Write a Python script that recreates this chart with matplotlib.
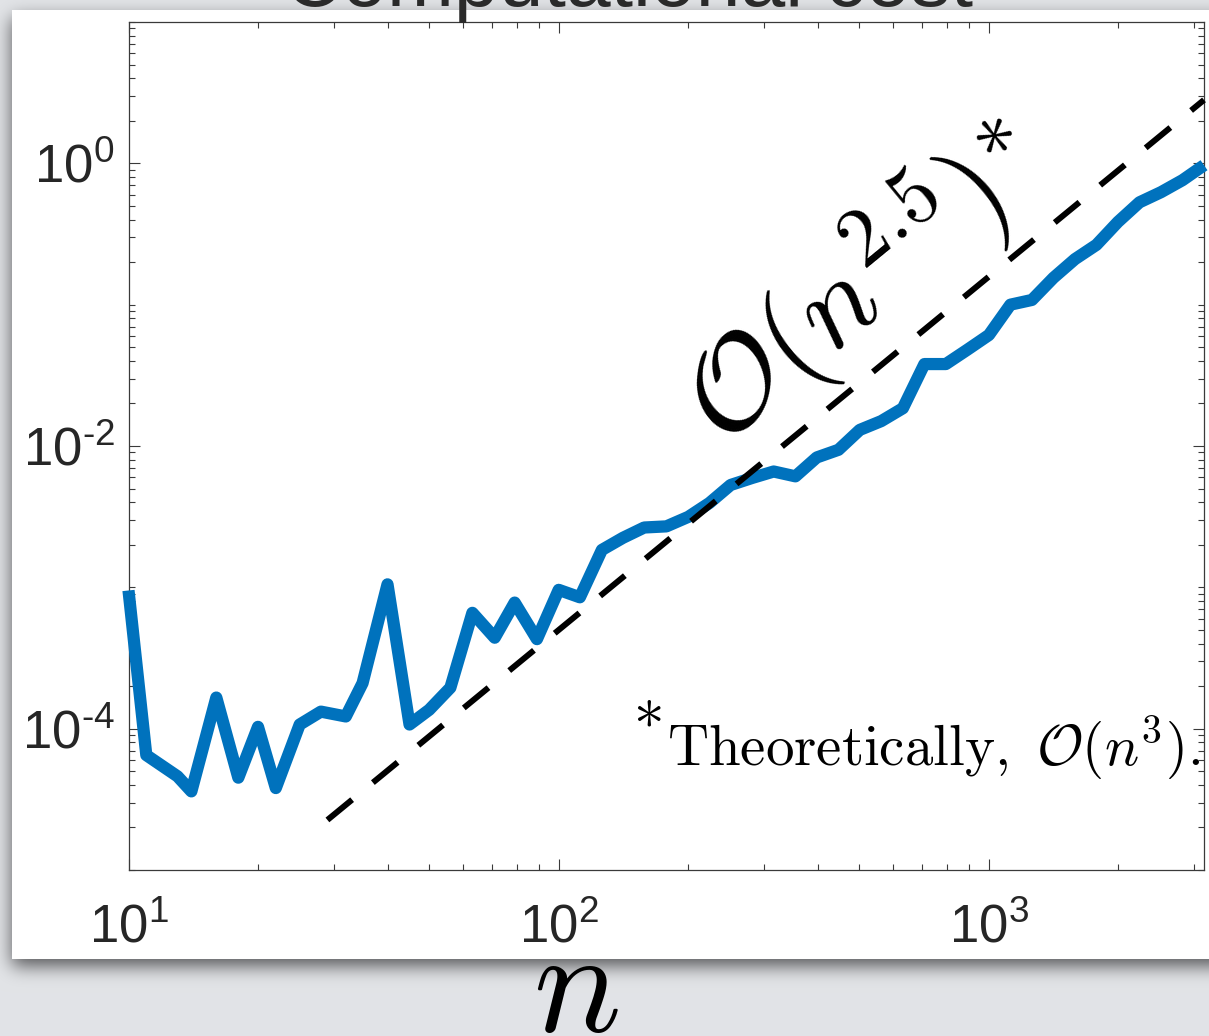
import numpy as np
import matplotlib
matplotlib.use("Agg")
import matplotlib.pyplot as plt
from matplotlib.ticker import LogLocator, FuncFormatter, NullFormatter, FixedLocator

# Problem size and measured wall-clock time (seconds)
n_values = [10, 11, 13, 14, 16, 18, 20, 22, 25, 28, 32, 35, 40, 45, 50, 56, 63,
            71, 79, 89, 100, 112, 126, 141, 158, 178, 200, 224, 251, 282, 316,
            355, 398, 447, 501, 562, 631, 708, 794, 891, 1000, 1122, 1259, 1413,
            1585, 1778, 1995, 2239, 2512, 2818, 3162]
run_time = [9.5e-4, 6.5e-5, 4.6e-5, 3.6e-5, 1.66e-4, 4.5e-5, 1.03e-4, 3.8e-5,
            1.07e-4, 1.32e-4, 1.22e-4, 2.1e-4, 1.05e-3, 1.07e-4, 1.36e-4, 1.95e-4,
            6.6e-4, 4.4e-4, 7.8e-4, 4.3e-4, 9.6e-4, 8.5e-4, 1.84e-3, 2.24e-3,
            2.65e-3, 2.7e-3, 3.15e-3, 3.95e-3, 5.3e-3, 5.95e-3, 6.6e-3, 6.1e-3,
            8.3e-3, 9.4e-3, 1.3e-2, 1.5e-2, 1.85e-2, 3.8e-2, 3.8e-2, 4.8e-2,
            6.1e-2, 1.0e-1, 1.08e-1, 1.55e-1, 2.1e-1, 2.65e-1, 3.85e-1, 5.3e-1,
            6.25e-1, 7.6e-1, 9.7e-1]

# Reference slope O(n^2.5)
ref_n = [29, 3162]
ref_time = [2.26e-5, 2.81]

x_limits = (10, 3162)
y_limits = (1e-5, 10)
x_major = [10, 100, 1000]
y_major = [1e-4, 1e-2, 1e0]

title_text = "Computational cost"
slope_label = r"$\mathcal{O}(n^{2.5})^{\ast}$"
footnote_mark = r"$\ast$"
footnote = r"$\mathrm{Theoretically,}\ \mathcal{O}(n^3).$"
x_label = r"$n$"

plt.rcParams['font.family'] = ['Liberation Sans', 'DejaVu Sans']
plt.rcParams['mathtext.fontset'] = 'cm'
plt.rcParams['axes.unicode_minus'] = False

W, H = 1209, 1036
fig = plt.figure(figsize=(W / 100, H / 100), dpi=100)

# ---- slide backdrop: grey page, white card with a soft drop shadow ----
PAD = 120
Hp, Wp = H + 2 * PAD, W + 2 * PAD
yy, xx = np.mgrid[0:Hp, 0:Wp]


def box(x0, x1, y0, y1):
    return ((xx >= x0 + PAD) & (xx < x1 + PAD) &
            (yy >= y0 + PAD) & (yy < y1 + PAD)).astype(float)


card = box(12, W + 200, 10, 959)
shade = box(12, W + 200, 18, 966)
sigma = 9.0
kx = np.arange(-int(3 * sigma), int(3 * sigma) + 1)
kern = np.exp(-0.5 * (kx / sigma) ** 2)
kern /= kern.sum()
shade = np.apply_along_axis(lambda r: np.convolve(r, kern, mode='same'), 1, shade)
shade = np.apply_along_axis(lambda c: np.convolve(c, kern, mode='same'), 0, shade)
card = card[PAD:PAD + H, PAD:PAD + W]
shade = shade[PAD:PAD + H, PAD:PAD + W]

page = np.array([0.886, 0.894, 0.906])
dark = np.array([0.20, 0.20, 0.21])
a = 0.8 * shade[..., None]
img = page * (1 - a) + dark * a
img[card > 0.5] = 1.0

bg = fig.add_axes([0, 0, 1, 1], zorder=-10)
bg.imshow(img, extent=(0, W, H, 0), aspect='auto', interpolation='bilinear')
bg.set_xlim(0, W)
bg.set_ylim(H, 0)
bg.axis('off')

# ---- main log-log axes ----
ax_left, ax_right, ax_top, ax_bottom = 128.5, 1204, 22, 870
ax = fig.add_axes([ax_left / W, 1 - ax_bottom / H,
                   (ax_right - ax_left) / W, (ax_bottom - ax_top) / H])
ax.set_xscale('log')
ax.set_yscale('log')
ax.set_xlim(*x_limits)
ax.set_ylim(*y_limits)
ax.set_facecolor('white')

axis_col = '#3a3a3a'
for s in ax.spines.values():
    s.set_color(axis_col)
    s.set_linewidth(0.9)


def decade_label(v, pos):
    e = int(round(np.log10(v)))
    return r"$\mathdefault{10^{%s}}$" % str(e).replace('-', '\u2010')


ax.xaxis.set_major_locator(FixedLocator(x_major))
ax.yaxis.set_major_locator(FixedLocator(y_major))
ax.xaxis.set_minor_locator(LogLocator(base=10, subs=np.arange(2, 10), numticks=20))
ax.yaxis.set_minor_locator(FixedLocator(
    [m * 10.0 ** e for e in range(-5, 1) for m in range(1, 10)
     if not (m == 1 and e in (-4, -2, 0))] + [10.0]))
ax.xaxis.set_major_formatter(FuncFormatter(decade_label))
ax.yaxis.set_major_formatter(FuncFormatter(decade_label))
ax.xaxis.set_minor_formatter(NullFormatter())
ax.yaxis.set_minor_formatter(NullFormatter())

ax.tick_params(which='both', direction='in', top=True, right=True,
               color=axis_col, width=0.8)
ax.tick_params(which='major', length=8)
ax.tick_params(which='minor', length=4)
ax.tick_params(axis='x', which='major', labelsize=38, pad=24, labelcolor='#262626')
ax.tick_params(axis='y', which='major', labelsize=38, pad=10, labelcolor='#262626')

# measured cost
ax.plot(n_values, run_time, color='#0072BD', lw=8.8,
        solid_joinstyle='round', solid_capstyle='butt', clip_on=False, zorder=3)

# reference slope
ax.plot(ref_n, ref_time, color='black', lw=4.3, dashes=(5.35, 4.5),
        clip_on=False, zorder=4)

p0 = ax.transData.transform((ref_n[0], ref_time[0]))
p1 = ax.transData.transform((ref_n[1], ref_time[1]))
angle = np.degrees(np.arctan2(p1[1] - p0[1], p1[0] - p0[0]))

ax.text(240, 1.0e-2, slope_label, fontsize=86, rotation=angle,
        rotation_mode='anchor', ha='left', va='baseline', color='black',
        math_fontfamily='cm', zorder=5)

# footnote with a full-size asterisk mark
ax.text(0.9963, 0.1238, footnote, transform=ax.transAxes, fontsize=41,
        ha='right', va='baseline', color='black', math_fontfamily='cm',
        zorder=5, clip_on=False)
ax.text(0.4695, 0.1865, footnote_mark, transform=ax.transAxes, fontsize=44,
        ha='left', va='center', color='black', math_fontfamily='cm', zorder=5)

# slide title (runs off the top of the page) and axis variable
fig.text(628 / W, 1 - 6 / H, title_text, fontsize=58, ha='center',
         va='baseline', color='#2a2a2a', zorder=6)
fig.text(576 / W, 1 - 1031 / H, x_label, fontsize=105, ha='center',
         va='baseline', color='black', math_fontfamily='cm', zorder=6)

fig.savefig('out.png', dpi=100)
